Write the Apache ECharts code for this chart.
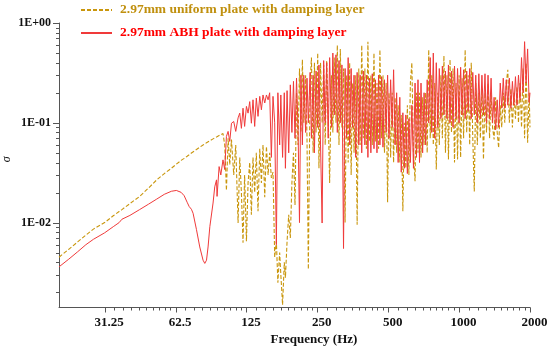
<!DOCTYPE html>
<html>
<head>
<meta charset="utf-8">
<script src="https://cdn.jsdelivr.net/npm/echarts@6/dist/echarts.min.js"></script>
<style>html,body{margin:0;padding:0;background:#fff}#c{width:550px;height:347px}</style>
</head>
<body>
<div id="c"></div>
<script>
// ---- data ----
const freqHz = [20,22,24,26,28,31.25,34,36,37,40,44,48,52,56,60,63,66,68,70,71.4,73,74.2,76.7,79.2,81.8,83.2,84.6,85.9,87.4,88.8,90.2,91.7,93.3,93.8,95.7,97.3,99.4,101.1,102.8,104.5,106.2,108,110.4,112.6,115.2,117.1,119,120.9,122.8,125,127,129.1,131.2,133.3,135.5,137.7,140,142.4,144.7,147,149.5,152,154.5,156.9,159.5,162.1,164.8,167.5,170,
173,175,178,181,183,186,189,192,195,198,201,204,207,210,213,216,219,223,226,229,233,236,240,243,247,251,254,258,262,266,270,274,278,282,287,291,295,300,304,309,313,318,323,328,333,338,343,348,353,358,364,369,375,380,386,392,398,404,410,416,422,428,435,441,448,455,461,468,475,482,490,497,504,512,520,527,535,543,551,560,568,577,585,594,603,612,621,630,640,650,659,669,679,689,700,710,721,732,743,754,765,777,788,800,812,824,837,849,862,875,888,901,915,928,942,956,971,985,1000,1015,1030,1045,1061,1077,1093,1109,1126,1143,1160,1177,1195,1213,1231,1250,1269,1288,1307,1327,1347,1367,1387,1408,1429,1451,1472,1495,1517,1540,1563,1586,1610,1634,1659,1684,1709,1735,1761,1787,1814,1841,1869,1897,1925,1954,1983,2000];

const sigmaUniform = [0.0045,0.0054,0.0064,0.0075,0.0086,0.0100,0.0117,0.0129,0.0135,0.0155,0.0183,0.0222,0.0268,0.0310,0.0350,0.0385,0.0420,0.0440,0.0462,0.0478,0.0498,0.0510,0.0540,0.0570,0.0600,0.0615,0.0630,0.0645,0.0660,0.0675,0.0690,0.0705,0.0720,0.0725,0.0745,0.0765,0.0780,0.0600,0.0210,0.0700,0.0380,0.0680,0.0300,0.0600,0.0099,0.0450,0.0200,0.0063,0.0300,0.0065,0.0250,0.0400,0.0120,0.0450,0.0200,0.0500,0.0130,0.0550,0.0250,0.0600,0.0180,0.0580,0.0300,0.0500,0.0280,0.0320,0.0045,0.0065,0.0025,
0.0050,0.0030,0.0015,0.0040,0.0028,0.0065,0.0120,0.0070,0.0250,0.0500,0.0150,0.2000,0.0600,0.3500,0.0800,0.4300,0.1000,0.3000,0.0700,0.0034,0.2500,0.4500,0.0500,0.4000,0.0800,0.5000,0.0350,0.4000,0.1000,0.3800,0.0600,0.4200,0.1200,0.0250,0.3000,0.0800,0.4500,0.1000,0.6000,0.0600,0.5500,0.0900,0.3500,0.0100,0.3000,0.0400,0.4000,0.0300,0.2500,0.0500,0.3000,0.0095,0.3500,0.0600,0.6000,0.0700,0.3500,0.0550,0.6500,0.0650,0.3000,0.0600,0.5000,0.0650,0.2500,0.0550,0.5400,0.0700,0.3000,0.0500,0.2500,0.0160,0.2000,0.0450,0.2000,0.0400,0.1800,0.0500,0.1500,0.0400,0.1200,0.0130,0.1000,0.0350,0.1500,0.0300,0.2500,0.4000,0.0500,0.0260,0.2000,0.0500,0.2000,0.0450,0.1800,0.0600,0.2000,0.0500,0.5400,0.0700,0.3000,0.0600,0.2500,0.0340,0.2000,0.0600,0.3000,0.0700,0.4700,0.0500,0.3000,0.0430,0.4300,0.0800,0.3500,0.0400,0.2500,0.0430,0.3000,0.0450,0.2800,0.0700,0.5400,0.0800,0.3000,0.0600,0.4000,0.0700,0.0205,0.2500,0.0600,0.2000,0.0700,0.2200,0.0430,0.2000,0.0800,0.2500,0.0700,0.2000,0.0900,0.0680,0.1800,0.0800,0.0560,0.1500,0.0900,0.2000,0.1000,0.2500,0.3400,0.1000,0.2200,0.0900,0.2000,0.1100,0.2300,0.1000,0.2500,0.0900,0.3500,0.0700,0.4000,0.0630,0.2000,0.0900];

const sigmaABH = [0.0036,0.0043,0.0051,0.0060,0.0068,0.0079,0.0091,0.0100,0.0108,0.0118,0.0135,0.0153,0.0172,0.0192,0.0206,0.0210,0.0201,0.0186,0.0160,0.0145,0.0136,0.0124,0.0085,0.0057,0.0042,0.0039,0.0042,0.0057,0.0091,0.0095,0.0157,0.0228,0.0268,0.0183,0.0364,0.0300,0.0425,0.0340,0.0730,0.0820,0.0650,0.0990,0.1030,0.0820,0.1120,0.1250,0.0880,0.1400,0.0920,0.1460,0.1250,0.1630,0.0990,0.1700,0.0920,0.1770,0.1160,0.1840,0.1350,0.1900,0.1580,0.1900,0.1700,0.2000,0.0450,0.1840,0.1000,0.0060,0.2000,
0.060,0.190,0.045,0.200,0.035,0.210,0.050,0.240,0.080,0.260,0.070,0.280,0.090,0.0100,0.300,0.060,0.300,0.080,0.280,0.100,0.320,0.070,0.300,0.050,0.330,0.090,0.380,0.060,0.0099,0.420,0.100,0.400,0.070,0.450,0.090,0.500,0.120,0.480,0.080,0.420,0.100,0.380,0.0055,0.350,0.070,0.450,0.060,0.350,0.090,0.300,0.045,0.320,0.060,0.300,0.050,0.330,0.060,0.300,0.045,0.280,0.050,0.310,0.055,0.270,0.050,0.300,0.060,0.290,0.057,0.270,0.080,0.300,0.070,0.270,0.090,0.340,0.060,0.200,0.040,0.180,0.032,0.126,0.035,0.120,0.031,0.110,0.040,0.150,0.035,0.250,0.045,0.270,0.040,0.250,0.050,0.200,0.060,0.270,0.100,0.450,0.080,0.500,0.070,0.400,0.090,0.350,0.110,0.370,0.120,0.330,0.110,0.380,0.100,0.330,0.090,0.370,0.110,0.350,0.100,0.360,0.120,0.340,0.110,0.330,0.130,0.350,0.110,0.320,0.120,0.300,0.100,0.310,0.110,0.300,0.120,0.310,0.100,0.300,0.110,0.280,0.100,0.180,0.085,0.170,0.090,0.250,0.140,0.280,0.140,0.270,0.150,0.280,0.140,0.260,0.150,0.290,0.150,0.300,0.170,0.450,0.200,0.650,0.250,0.550,0.160,0.200];

const seriesNames = ['2.97mm uniform plate with damping layer', '2.97mm ABH plate with damping layer'];
const xTickValues = [31.25, 62.5, 125, 250, 500, 1000, 2000];
const xTickLabels = ['31.25', '62.5', '125', '250', '500', '1000', '2000'];
const yTickValues = [0.01, 0.1, 1];
const yTickLabels = ['1E-02', '1E-01', '1E+00'];
const xRange = [20, 2000];
const yRange = [0.00141, 1];

// ---- build ----
const L2 = Math.log2, L10 = Math.log10;
const xLo = L2(xRange[0]), xHi = L2(xRange[1]);
const yLo = L10(yRange[0]), yHi = L10(yRange[1]);
// tick marks: [x, y, length in px]
const xTicks = xTickValues.map(v => [L2(v), yLo, 5]);
for (let i = 0; i < xTickValues.length - 1; i++) {
  const a = xTickValues[i];
  for (let k = 1; k <= 9; k++) xTicks.push([L2(a * (1 + k / 10)), yLo, 3]);
}
const yTicks = yTickValues.map(v => [xLo, L10(v), 6]);
for (let n = -3; n <= -1; n++) {
  for (let k = 2; k <= 9; k++) {
    const v = k * Math.pow(10, n);
    if (v >= yRange[0] && v <= yRange[1]) yTicks.push([xLo, L10(v), 3]);
  }
}
function lookup(vals, labels, f, v) {
  for (let i = 0; i < vals.length; i++) if (Math.abs(f(vals[i]) - v) < 1e-6) return labels[i];
  return '';
}
const FONT = "'Liberation Serif', 'DejaVu Serif', serif";
const AXC = '#555555';
const toData = (ys) => freqHz.map((f, i) => [L2(f), L10(ys[i])]);

function tickSeries(data, horizontalAxis) {
  return {
    type: 'custom', silent: true, clip: false, z: 5, data: data,
    encode: {x: 0, y: 1},
    renderItem: (params, api) => {
      const p = api.coord([api.value(0), api.value(1)]);
      const len = api.value(2);
      if (horizontalAxis) {
        const x = Math.round(p[0]) + 0.5;
        return {type: 'line', shape: {x1: x, y1: p[1], x2: x, y2: p[1] + len}, style: {stroke: AXC, lineWidth: 1}};
      }
      const y = Math.round(p[1]) + 0.5;
      return {type: 'line', shape: {x1: p[0] - len, y1: y, x2: p[0], y2: y}, style: {stroke: AXC, lineWidth: 1}};
    }
  };
}

const chart = echarts.init(document.getElementById('c'), null, {renderer: 'canvas'});
chart.setOption({
  animation: false,
  backgroundColor: '#fff',
  grid: {left: 59, right: 20, top: 23, bottom: 39.5, containLabel: false, outerBoundsMode: 'none'},
  legend: {
    orient: 'vertical', left: 80, top: 3, padding: 0, itemWidth: 31, itemHeight: 14, itemGap: 9,
    itemStyle: {opacity: 0},
    textStyle: {fontFamily: FONT, fontWeight: 'bold', fontSize: 13.5, padding: [0, 0, 0, 3]},
    data: [
      {name: seriesNames[0], textStyle: {color: '#C0900E'}},
      {name: seriesNames[1], textStyle: {color: '#FF0000'}}
    ]
  },
  xAxis: {
    type: 'value', min: xLo, max: xHi, position: 'bottom',
    splitLine: {show: false},
    axisLine: {show: true, onZero: false, lineStyle: {color: AXC, width: 1}},
    axisTick: {show: false},
    axisLabel: {
      show: true, customValues: xTickValues.map(L2), formatter: v => lookup(xTickValues, xTickLabels, L2, v),
      fontFamily: FONT, fontWeight: 'bold', fontSize: 13, color: '#111', margin: 9, padding: [0, 0, 0, 9]
    },
    name: 'Frequency (Hz)', nameLocation: 'middle', nameGap: 26, nameMoveOverlap: false,
    nameTextStyle: {fontFamily: FONT, fontWeight: 'bold', fontSize: 13, color: '#111', padding: [0, 0, 0, 39]}
  },
  yAxis: {
    type: 'value', min: yLo, max: yHi, position: 'left',
    splitLine: {show: false},
    axisLine: {show: true, onZero: false, lineStyle: {color: AXC, width: 1}},
    axisTick: {show: false},
    axisLabel: {
      show: true, customValues: yTickValues.map(L10), formatter: v => lookup(yTickValues, yTickLabels, L10, v),
      fontFamily: FONT, fontWeight: 'bold', fontSize: 12, color: '#111', margin: 8
    },
    name: 'σ', nameLocation: 'middle', nameGap: 46, nameMoveOverlap: false,
    nameTextStyle: {fontFamily: FONT, fontStyle: 'italic', fontSize: 12, color: '#111', padding: [0, 0, 0, 12]}
  },
  series: [{
    name: seriesNames[0], type: 'line', data: toData(sigmaUniform), symbol: 'none',
    lineStyle: {color: '#C9960C', width: 1.1, type: [4, 2]}, itemStyle: {color: '#C9960C'}
  }, {
    name: seriesNames[1], type: 'line', data: toData(sigmaABH), symbol: 'none',
    lineStyle: {color: '#F03A3A', width: 1}, itemStyle: {color: '#F03A3A'}
  },
    tickSeries(xTicks, true),
    tickSeries(yTicks, false)
  ]
});
</script>
</body>
</html>
